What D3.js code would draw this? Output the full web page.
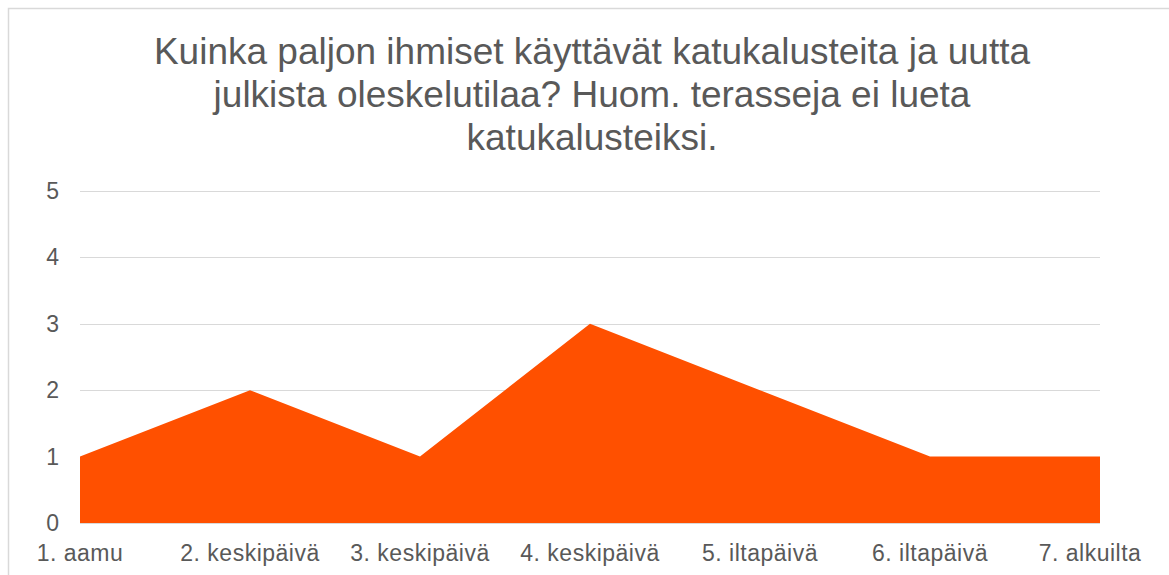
<!DOCTYPE html>
<html><head><meta charset="utf-8">
<script src="https://cdn.jsdelivr.net/npm/d3@7"></script>
<style>body{margin:0;background:#fff;} svg{display:block;font-family:"Liberation Sans",Arial,sans-serif;}</style>
</head><body>
<script>
const categories = ["1. aamu","2. keskipäivä","3. keskipäivä","4. keskipäivä","5. iltapäivä","6. iltapäivä","7. alkuilta"];
const values = [1,2,1,3,2,1,1];
const yTicks = [0,1,2,3,4,5];
const titleLines = ["Kuinka paljon ihmiset käyttävät katukalusteita ja uutta","julkista oleskelutilaa? Huom. terasseja ei lueta","katukalusteiksi."];

const W=1169,H=575;
const svg=d3.select("body").append("svg").attr("width",W).attr("height",H);
svg.append("rect").attr("x",8.5).attr("y",8.5).attr("width",W+10).attr("height",H+10).attr("fill","none").attr("stroke","#d9d9d9").attr("stroke-width",1.5);

const x=d3.scalePoint().domain(categories).range([80,1100]);
const y=d3.scaleLinear().domain([0,5]).range([523,191]);

svg.append("g").selectAll("line").data(yTicks).join("line")
 .attr("x1",80).attr("x2",1100).attr("y1",d=>Math.round(y(d))+0.5).attr("y2",d=>Math.round(y(d))+0.5)
 .attr("stroke","#d9d9d9").attr("stroke-width",1);

const area=d3.area().x((d,i)=>x(categories[i])).y0(y(0)).y1(d=>y(d));
svg.append("path").datum(values).attr("d",area).attr("fill","#FF5000");

svg.append("g").selectAll("text").data(yTicks).join("text")
 .attr("x",59).attr("y",d=>y(d)).attr("dy","0.35em").attr("text-anchor","end")
 .attr("font-size",23).attr("fill","#595959").text(d=>d);

svg.append("g").selectAll("text").data(categories).join("text")
 .attr("x",(d,i)=>i===categories.length-1?x(d)-10:x(d)).attr("y",561).attr("text-anchor","middle")
 .attr("font-size",23).attr("letter-spacing",0.5).attr("fill","#595959").text(d=>d);

svg.append("g").selectAll("text").data(titleLines).join("text")
 .attr("x",592).attr("y",(d,i)=>64+i*43).attr("text-anchor","middle")
 .attr("font-size",37).attr("fill","#595959").text(d=>d);
</script>
</body></html>
